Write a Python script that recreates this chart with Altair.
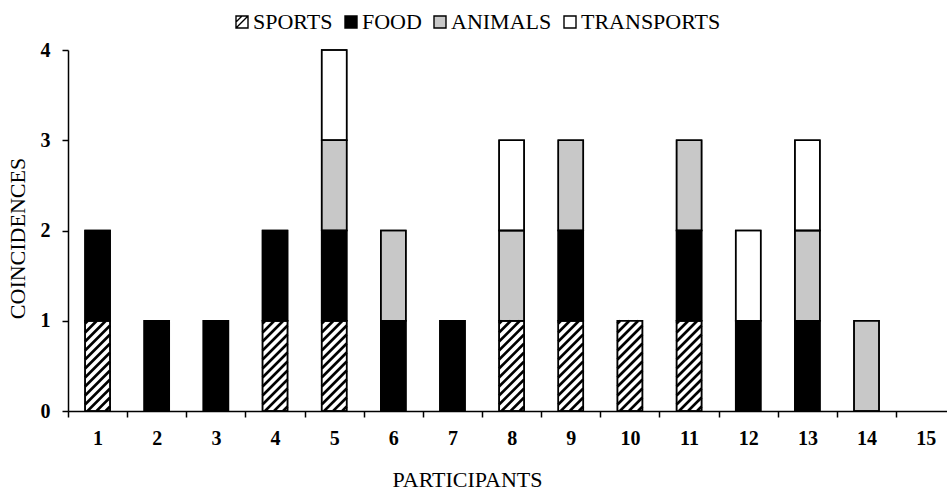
import altair as alt
import pandas as pd

participants = list(range(1, 16))
categories = ["SPORTS", "FOOD", "ANIMALS", "TRANSPORTS"]
sports = [1, 0, 0, 1, 1, 0, 0, 1, 1, 1, 1, 0, 0, 0, 0]
food = [1, 1, 1, 1, 1, 1, 1, 0, 1, 0, 1, 1, 1, 0, 0]
animals = [0, 0, 0, 0, 1, 1, 0, 1, 1, 0, 1, 0, 1, 1, 0]
transports = [0, 0, 0, 0, 1, 0, 0, 1, 0, 0, 0, 1, 1, 0, 0]
y_ticks = [0, 1, 2, 3, 4]

series = {"SPORTS": sports, "FOOD": food, "ANIMALS": animals, "TRANSPORTS": transports}
rows = []
for ci, cat in enumerate(categories):
    for p, v in zip(participants, series[cat]):
        rows.append({"participant": p, "category": cat, "ord": ci, "value": v})
df = pd.DataFrame(rows)

W, H = 879, 361
STEP = 59.15
XMIN = 0.5
XMAX = XMIN + W / STEP
SX = STEP
SY = H / 4.0
BW = 25 / STEP
GAP = 9.0

FONT = "Liberation Serif"
fill_range = ["white", "black", "#c8c8c8", "white"]
hatch_path = "M-1,-1H1V1H-1Z M-1,1L1,-1 M-1,0L0,-1"

x_scale = alt.Scale(domain=[XMIN, XMAX], nice=False, zero=False)
y_scale = alt.Scale(domain=[0, 4], nice=False)

x_axis = alt.Axis(
    values=participants, title="PARTICIPANTS", grid=False,
    tickOffset=-STEP / 2, labelOffset=STEP / 2,
    tickSize=6, tickWidth=1.5, tickColor="black",
    domainColor="black", domainWidth=1.5,
    labelFont=FONT, labelFontSize=20, labelFontWeight="bold", labelColor="black",
    labelPadding=11, labelFlush=False, labelOverlap=False,
    titleFont=FONT, titleFontSize=22, titleFontWeight="normal", titleColor="black",
    titleX=399, titleAlign="center", titlePadding=21,
)
y_axis = alt.Axis(
    values=y_ticks, title="COINCIDENCES", grid=False,
    tickSize=6, tickWidth=1.5, tickColor="black",
    domainColor="black", domainWidth=1.5,
    labelFont=FONT, labelFontSize=20, labelFontWeight="bold", labelColor="black",
    labelPadding=12,
    titleFont=FONT, titleFontSize=22, titleFontWeight="normal", titleColor="black",
    titlePadding=11, titleY=188, titleAlign="center",
)

legend_def = alt.Legend(
    title=None, orient="none", legendX=163, legendY=-39, direction="horizontal",
    symbolSize=144,
    symbolType=alt.ExprRef(expr=f"datum.value === 'SPORTS' ? '{hatch_path}' : 'square'"),
    symbolStrokeColor="black", symbolStrokeWidth=1.4, symbolOpacity=1,
    labelFont=FONT, labelFontSize=22, labelColor="black", labelOffset=0,
    columnPadding=7, padding=0,
)

base = (
    alt.Chart(df)
    .transform_stack(stack="value", groupby=["participant"], as_=["y0", "y1"],
                     sort=[alt.SortField("ord", order="ascending")])
    .transform_filter("datum.value > 0")
    .transform_calculate(xl=f"datum.participant - {BW / 2}", xr=f"datum.participant + {BW / 2}")
)

bars = base.mark_bar(stroke="black", strokeWidth=1.4).encode(
    x=alt.X("xl:Q", scale=x_scale, axis=x_axis),
    x2="xr:Q",
    y=alt.Y("y0:Q", scale=y_scale, axis=y_axis),
    y2="y1:Q",
    color=alt.Color("category:N", scale=alt.Scale(domain=categories, range=fill_range),
                    legend=legend_def),
)

hatch = (
    base.transform_filter("datum.category == 'SPORTS'")
    .transform_calculate(k="sequence(0, 20)")
    .transform_flatten(["k"])
    .transform_calculate(
        Wp=f"{BW * SX}",
        Hp=f"(datum.y1 - datum.y0) * {SY}",
    )
    .transform_calculate(c=f"-datum.Wp + (datum.k + 0.5) * {GAP}")
    .transform_filter("datum.c < datum.Hp")
    .transform_calculate(
        hx1=f"datum.xl + max(0, -datum.c) / {SX}",
        hy1=f"datum.y0 + max(0, datum.c) / {SY}",
        hx2=f"datum.xl + min(datum.Wp, datum.Hp - datum.c) / {SX}",
        hy2=f"datum.y0 + min(datum.Hp, datum.c + datum.Wp) / {SY}",
    )
    .mark_rule(color="black", strokeWidth=2.6, clip=True)
    .encode(
        x=alt.X("hx1:Q", scale=x_scale, axis=x_axis),
        x2="hx2:Q",
        y=alt.Y("hy1:Q", scale=y_scale, axis=y_axis),
        y2="hy2:Q",
    )
)

outline = base.mark_bar(fillOpacity=0, stroke="black", strokeWidth=1.6).encode(
    x=alt.X("xl:Q", scale=x_scale, axis=x_axis),
    x2="xr:Q",
    y=alt.Y("y0:Q", scale=y_scale, axis=y_axis),
    y2="y1:Q",
)

chart = (
    alt.layer(bars, hatch, outline)
    .properties(
        width=W, height=H,
        autosize=alt.AutoSizeParams(type="none"),
        padding={"left": 68, "top": 50, "right": 0, "bottom": 81},
        background="white",
    )
    .configure_view(stroke=None)
)

chart.save("out.html", embed_options={"renderer": "svg", "actions": False})
